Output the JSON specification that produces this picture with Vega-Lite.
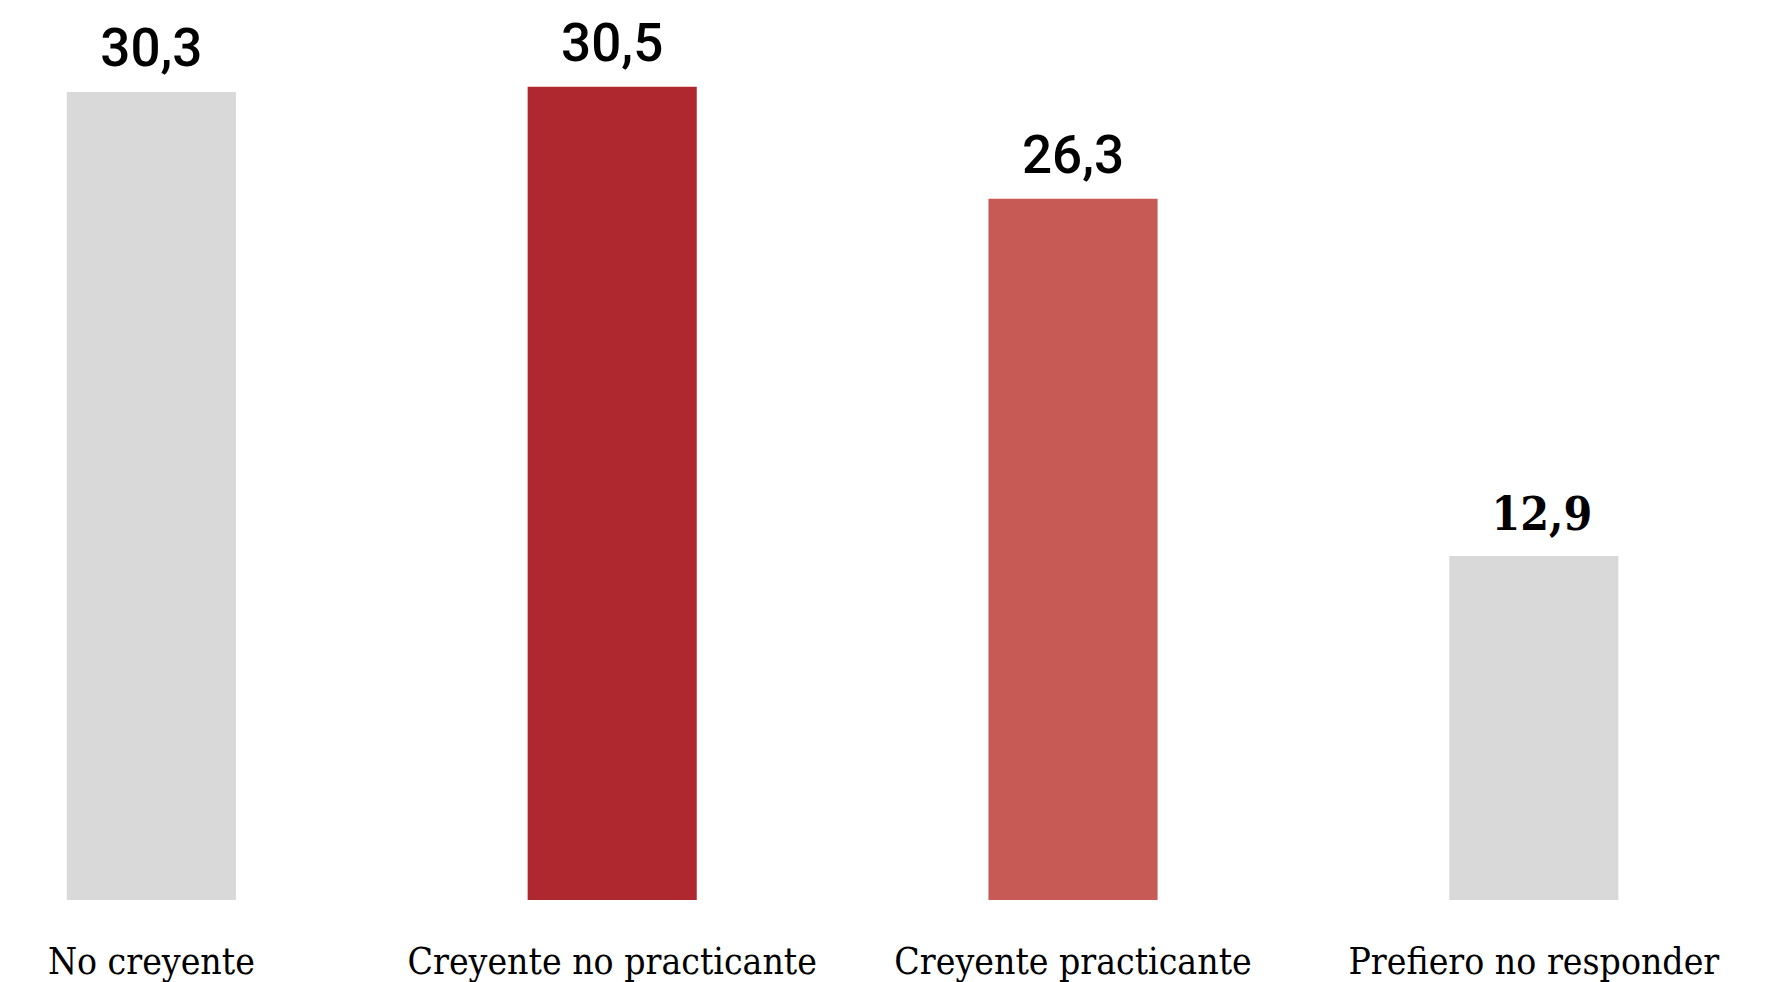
{
  "$schema": "https://vega.github.io/schema/vega-lite/v6.json",
  "width": 1782,
  "height": 900,
  "padding": {"left": 0, "top": 0, "right": 0, "bottom": 82},
  "autosize": {"type": "none"},
  "background": "white",
  "config": {"view": {"stroke": null}},
  "data": {"values": [
    {"cat": "No creyente", "val": 30.3, "lbl": "30,3"},
    {"cat": "Creyente no practicante", "val": 30.5, "lbl": "30,5"},
    {"cat": "Creyente practicante", "val": 26.3, "lbl": "26,3"},
    {"cat": "Prefiero no responder", "val": 12.9, "lbl": "12,9"}
  ]},
  "encoding": {
    "x": {"field": "cat", "type": "nominal", "sort": null,
      "scale": {"paddingInner": 0.633, "paddingOuter": 0.25, "align": 0.29},
      "axis": {"title": null, "ticks": false, "domain": false, "labelAngle": 0,
        "labelFont": "DejaVu Serif Condensed", "labelFontSize": 37, "labelColor": "#000000", "labelLimit": 0,
        "labelOverlap": false,
        "labelBaseline": "alphabetic", "labelPadding": 73}},
    "y": {"field": "val", "type": "quantitative", "scale": {"domain": [0, 33.75]}, "axis": null}
  },
  "layer": [
    {"mark": {"type": "bar"},
     "encoding": {"color": {"field": "cat", "type": "nominal", "legend": null,
       "scale": {"domain": ["No creyente", "Creyente no practicante", "Creyente practicante", "Prefiero no responder"],
                 "range": ["#d9d9d9", "#b0282f", "#c75a55", "#d9d9d9"]}}}},
    {"transform": [{"filter": "datum.cat !== 'Prefiero no responder'"}],
     "mark": {"type": "text", "font": "Roboto", "fontSize": 53, "fontWeight": 500, "baseline": "alphabetic", "dy": -26, "color": "#000000"},
     "encoding": {"text": {"field": "lbl"}}},
    {"transform": [{"filter": "datum.cat === 'Prefiero no responder'"}],
     "mark": {"type": "text", "font": "DejaVu Serif Condensed", "fontSize": 46, "fontWeight": "bold", "baseline": "alphabetic", "dy": -26, "dx": 8, "color": "#000000"},
     "encoding": {"text": {"field": "lbl"}}}
  ]
}
